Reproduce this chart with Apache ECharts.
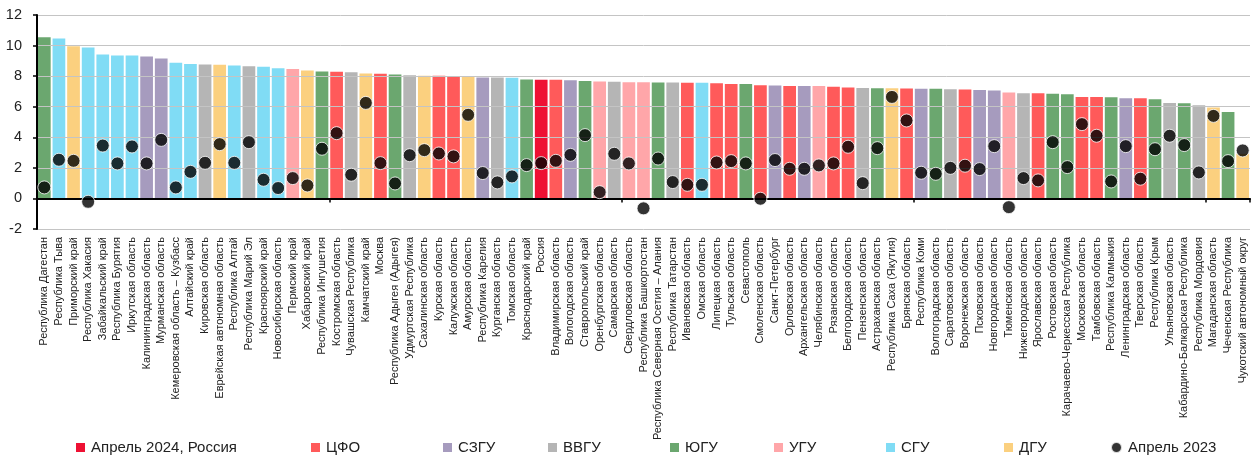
<!DOCTYPE html>
<html>
<head>
<meta charset="utf-8">
<script src="https://cdn.jsdelivr.net/npm/echarts@6/dist/echarts.min.js"></script>
<style>
  html, body { margin: 0; padding: 0; background: #fff; }
  #chart { width: 1253px; height: 459px; }
</style>
</head>
<body>
<div id="chart"></div>
<script>
// Регионы, упорядоченные по годовой инфляции, апрель 2024, % г/г
const regions = [
  'Республика Дагестан', 'Республика Тыва', 'Приморский край', 'Республика Хакасия',
  'Забайкальский край', 'Республика Бурятия', 'Иркутская область', 'Калининградская область',
  'Мурманская область', 'Кемеровская область – Кузбасс', 'Алтайский край', 'Кировская область',
  'Еврейская автономная область', 'Республика Алтай', 'Республика Марий Эл', 'Красноярский край',
  'Новосибирская область', 'Пермский край', 'Хабаровский край', 'Республика Ингушетия',
  'Костромская область', 'Чувашская Республика', 'Камчатский край', 'Москва',
  'Республика Адыгея (Адыгея)', 'Удмуртская Республика', 'Сахалинская область', 'Курская область',
  'Калужская область', 'Амурская область', 'Республика Карелия', 'Курганская область',
  'Томская область', 'Краснодарский край', 'Россия', 'Владимирская область',
  'Вологодская область', 'Ставропольский край', 'Оренбургская область', 'Самарская область',
  'Свердловская область', 'Республика Башкортостан', 'Республика Северная Осетия – Алания', 'Республика Татарстан',
  'Ивановская область', 'Омская область', 'Липецкая область', 'Тульская область',
  'Севастополь', 'Смоленская область', 'Санкт-Петербург', 'Орловская область',
  'Архангельская область', 'Челябинская область', 'Рязанская область', 'Белгородская область',
  'Пензенская область', 'Астраханская область', 'Республика Саха (Якутия)', 'Брянская область',
  'Республика Коми', 'Волгоградская область', 'Саратовская область', 'Воронежская область',
  'Псковская область', 'Новгородская область', 'Тюменская область', 'Нижегородская область',
  'Ярославская область', 'Ростовская область', 'Карачаево-Черкесская Республика', 'Московская область',
  'Тамбовская область', 'Республика Калмыкия', 'Ленинградская область', 'Тверская область',
  'Республика Крым', 'Ульяновская область', 'Кабардино-Балкарская Республика', 'Республика Мордовия',
  'Магаданская область', 'Чеченская Республика', 'Чукотский автономный округ'
];

// Территориальное управление для каждого региона (RU — Россия в целом)
const districts = [
  'ЮГУ', 'СГУ', 'ДГУ', 'СГУ',
  'СГУ', 'СГУ', 'СГУ', 'СЗГУ',
  'СЗГУ', 'СГУ', 'СГУ', 'ВВГУ',
  'ДГУ', 'СГУ', 'ВВГУ', 'СГУ',
  'СГУ', 'УГУ', 'ДГУ', 'ЮГУ',
  'ЦФО', 'ВВГУ', 'ДГУ', 'ЦФО',
  'ЮГУ', 'ВВГУ', 'ДГУ', 'ЦФО',
  'ЦФО', 'ДГУ', 'СЗГУ', 'ВВГУ',
  'СГУ', 'ЮГУ', 'RU', 'ЦФО',
  'СЗГУ', 'ЮГУ', 'УГУ', 'ВВГУ',
  'УГУ', 'УГУ', 'ЮГУ', 'ВВГУ',
  'ЦФО', 'СГУ', 'ЦФО', 'ЦФО',
  'ЮГУ', 'ЦФО', 'СЗГУ', 'ЦФО',
  'СЗГУ', 'УГУ', 'ЦФО', 'ЦФО',
  'ВВГУ', 'ЮГУ', 'ДГУ', 'ЦФО',
  'СЗГУ', 'ЮГУ', 'ВВГУ', 'ЦФО',
  'СЗГУ', 'СЗГУ', 'УГУ', 'ВВГУ',
  'ЦФО', 'ЮГУ', 'ЮГУ', 'ЦФО',
  'ЦФО', 'ЮГУ', 'СЗГУ', 'ЦФО',
  'ЮГУ', 'ВВГУ', 'ЮГУ', 'ВВГУ',
  'ДГУ', 'ЮГУ', 'ДГУ'
];

// Инфляция, апрель 2024, % г/г
const april2024 = [
  10.54, 10.46, 9.96, 9.87,
  9.41, 9.35, 9.35, 9.28,
  9.15, 8.87, 8.80, 8.76,
  8.74, 8.69, 8.65, 8.61,
  8.52, 8.47, 8.37, 8.30,
  8.28, 8.26, 8.17, 8.15,
  8.10, 8.06, 8.02, 8.02,
  8.00, 7.95, 7.91, 7.91,
  7.89, 7.78, 7.76, 7.76,
  7.73, 7.69, 7.65, 7.63,
  7.60, 7.60, 7.58, 7.58,
  7.56, 7.56, 7.54, 7.49,
  7.49, 7.41, 7.39, 7.36,
  7.36, 7.36, 7.30, 7.25,
  7.23, 7.21, 7.21, 7.19,
  7.17, 7.17, 7.15, 7.12,
  7.10, 7.06, 6.93, 6.88,
  6.88, 6.84, 6.82, 6.64,
  6.64, 6.62, 6.56, 6.56,
  6.49, 6.25, 6.23, 6.10,
  5.95, 5.66, 2.92
];

// Инфляция, апрель 2023, % г/г
const april2023 = [
  0.72, 2.53, 2.46, -0.22,
  3.46, 2.29, 3.40, 2.29,
  3.83, 0.72, 1.74, 2.33,
  3.55, 2.33, 3.68, 1.22,
  0.68, 1.33, 0.85, 3.25,
  4.27, 1.55, 6.25, 2.31,
  0.98, 2.83, 3.16, 2.94,
  2.75, 5.47, 1.66, 1.05,
  1.44, 2.18, 2.31, 2.46,
  2.85, 4.14, 0.41, 2.92,
  2.29, -0.65, 2.61, 1.07,
  0.89, 0.89, 2.35, 2.44,
  2.29, -0.02, 2.51, 1.94,
  1.94, 2.16, 2.29, 3.38,
  1.00, 3.29, 6.64, 5.10,
  1.68, 1.61, 2.00, 2.14,
  1.92, 3.42, -0.57, 1.33,
  1.18, 3.68, 2.05, 4.86,
  4.10, 1.11, 3.42, 1.29,
  3.22, 4.10, 3.49, 1.70,
  5.40, 2.44, 3.14
];

const yTicks = [-2, 0, 2, 4, 6, 8, 10, 12];

// Группы столбцов в порядке легенды
const groups = [
  { key: 'RU',   name: 'Апрель 2024, Россия', color: '#ee1133' },
  { key: 'ЦФО',  name: 'ЦФО',  color: '#ff5a5a' },
  { key: 'СЗГУ', name: 'СЗГУ', color: '#a69bbe' },
  { key: 'ВВГУ', name: 'ВВГУ', color: '#b5b5b5' },
  { key: 'ЮГУ',  name: 'ЮГУ',  color: '#6ba76f' },
  { key: 'УГУ',  name: 'УГУ',  color: '#ffa6a9' },
  { key: 'СГУ',  name: 'СГУ',  color: '#80dcf5' },
  { key: 'ДГУ',  name: 'ДГУ',  color: '#fbd07f' }
];
const dotName = 'Апрель 2023';

const FONT = '"Liberation Sans", Arial, sans-serif';

const barSeries = groups.map(g => ({
  name: g.name,
  type: 'bar',
  xAxisIndex: 0,
  yAxisIndex: 0,
  barGap: '-100%',
  barCategoryGap: '13%',
  itemStyle: { color: g.color },
  emphasis: { disabled: true },
  data: april2024.map((v, i) => districts[i] === g.key ? v : '-'),
  z: 2
}));

const dotSeries = {
  name: dotName,
  type: 'scatter',
  xAxisIndex: 0,
  yAxisIndex: 0,
  symbol: 'circle',
  symbolSize: 13,
  itemStyle: { color: '#000', borderColor: '#fff', borderWidth: 1 },
  emphasis: { disabled: true },
  data: april2023,
  z: 6
};

// Подписи легенды расставлены вдоль нижнего края по отдельности
const legendLeft = [76, 311, 443, 548, 670, 774, 886, 1004, 1110];
const legendNames = groups.map(g => g.name).concat([dotName]);
const legends = legendNames.map((n, i) => ({
  data: [{ name: n, icon: n === dotName ? 'circle' : 'rect' }],
  left: legendLeft[i],
  top: 440,
  padding: 0,
  itemWidth: n === dotName ? 11 : 9,
  itemHeight: n === dotName ? 11 : 9,
  itemGap: 0,
  selectedMode: false,
  textStyle: { fontSize: 15, color: '#222', fontFamily: FONT, padding: [0, 0, 0, 1] }
}));

const chart = echarts.init(document.getElementById('chart'), null, { renderer: 'canvas' });
chart.setOption({
  animation: false,
  backgroundColor: '#fff',
  textStyle: { fontFamily: FONT },
  legend: legends,
  grid: { left: 37, right: 3, top: 15, bottom: 230, containLabel: false },
  xAxis: [
    {
      type: 'category',
      data: regions,
      position: 'bottom',
      axisLine: { onZero: true, lineStyle: { color: '#000', width: 2 } },
      axisTick: { show: true, length: 4, lineStyle: { color: '#000', width: 1.5 } },
      axisLabel: { show: false },
      splitLine: { show: false },
      z: 5
    },
    {
      type: 'category',
      data: regions,
      position: 'bottom',
      axisLine: { show: false, onZero: false },
      axisTick: { show: false },
      axisLabel: {
        interval: 0, rotate: 90, fontSize: 11, color: '#222',
        fontFamily: FONT, margin: 8
      },
      splitLine: { show: false }
    }
  ],
  yAxis: {
    type: 'value',
    min: yTicks[0],
    max: yTicks[yTicks.length - 1],
    interval: 2,
    axisLine: { show: true, lineStyle: { color: '#000', width: 2 } },
    axisTick: { show: true, length: 4, lineStyle: { color: '#000', width: 1.5 } },
    axisLabel: { fontSize: 14.5, color: '#222', fontFamily: FONT, margin: 15 },
    splitLine: { show: true, lineStyle: { color: '#c4c4c4', width: 1 } },
    z: 5
  },
  series: barSeries.concat([dotSeries])
});
</script>
</body>
</html>
